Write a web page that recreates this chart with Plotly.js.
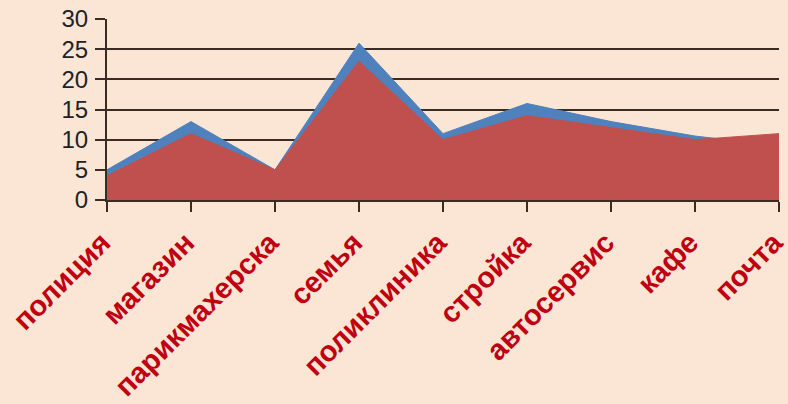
<!DOCTYPE html>
<html>
<head>
<meta charset="utf-8">
<script src="https://cdn.plot.ly/plotly-3.0.1.min.js"></script>
<style>
  html, body { margin: 0; padding: 0; background: #FBE6D6; }
  #chart { width: 788px; height: 404px; }
</style>
</head>
<body>
<div id="chart"></div>
<script>
const categories = ["полиция", "магазин", "парикмахерска", "семья", "поликлиника", "стройка", "автосервис", "кафе", "почта"];
const blueValues = [5, 13, 5, 26, 11, 16, 13, 10.6, 9];
const redValues  = [4, 11, 5, 23, 10, 14, 12, 10, 11];
const yTickValues = [0, 5, 10, 15, 20, 25, 30];

const dark = "#3a2b24";

const traces = [
  {
    x: categories, y: blueValues, type: "scatter", mode: "lines",
    fill: "tozeroy", fillcolor: "#4F81BD",
    line: { color: "#4F81BD", width: 1 },
    hoverinfo: "skip", showlegend: false
  },
  {
    x: categories, y: redValues, type: "scatter", mode: "lines",
    fill: "tozeroy", fillcolor: "#C0504D",
    line: { color: "#C0504D", width: 1 },
    hoverinfo: "skip", showlegend: false
  }
];

const layout = {
  width: 788, height: 404,
  paper_bgcolor: "#FBE6D6", plot_bgcolor: "#FBE6D6",
  margin: { l: 107, r: 9, t: 19, b: 204 },
  showlegend: false,
  xaxis: {
    type: "category",
    range: [0, 8],
    showgrid: false,
    zeroline: false,
    showline: true, linecolor: dark, linewidth: 2,
    ticks: "outside", ticklen: 10, tickwidth: 2, tickcolor: dark,
    tickangle: -45,
    ticklabelshift: -5,
    ticklabelstandoff: 2,
    tickfont: { family: "Liberation Sans, Arial, sans-serif", size: 29, color: "#C00010", weight: "bold" }
  },
  yaxis: {
    range: [0, 30],
    tickvals: yTickValues,
    ticktext: yTickValues.map(String),
    showgrid: true, gridcolor: dark, gridwidth: 2,
    zeroline: false,
    showline: true, linecolor: dark, linewidth: 2,
    ticks: "outside", ticklen: 10, tickwidth: 2, tickcolor: dark,
    ticklabelstandoff: 2,
    tickfont: { family: "Liberation Sans, Arial, sans-serif", size: 24, color: "#222222" }
  }
};

Plotly.newPlot("chart", traces, layout, { staticPlot: true, displayModeBar: false });
</script>
</body>
</html>
